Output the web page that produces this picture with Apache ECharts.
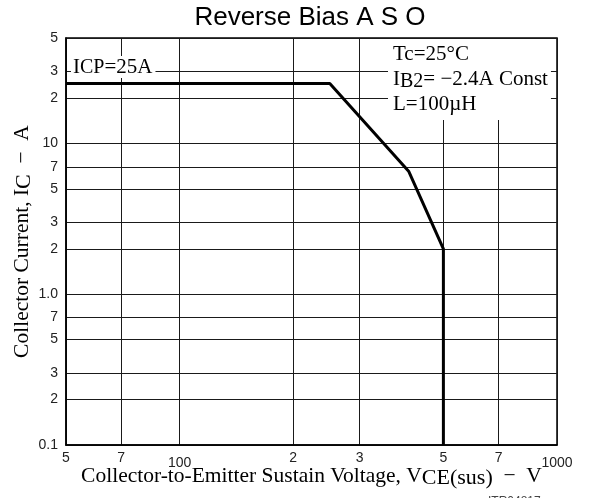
<!DOCTYPE html>
<html style="height: 100%">
<head>
<meta charset="UTF-8" />
<title>Reverse Bias A S O</title>
<style>
html, body { margin: 0; padding: 0; background: #ffffff; }
#chartBox { width: 589px; height: 498px; }
</style>
</head>
<body>
	<div id="chartBox"></div>

	<script src="https://cdn.jsdelivr.net/npm/echarts@6/dist/echarts.min.js"></script>
	<script>
		// data (V, A)
		var vceData = [50, 250, 405, 500, 500];
		var icData = [25, 25, 6.5, 2, 0.1];
		// grid / label positions
		var xTicks = [50, 70, 100, 200, 300, 500, 700, 1000];
		var yTicks = [0.1, 0.2, 0.3, 0.5, 0.7, 1, 2, 3, 5, 7, 10, 20, 30, 50];

		var serif = '"Liberation Serif", "DejaVu Serif", serif';
		var sans = '"Liberation Sans", Arial, sans-serif';

		// only decades get full numbers, the rest just the mantissa
		function tickText(v, lower) {
			var e = Math.floor(Math.log10(v) + 1e-9);
			var m = Math.round(v / Math.pow(10, e));
			if (m !== 1) return String(m);
			var s;
			if (Math.abs(v - 1) < 1e-9) s = '1.0';
			else s = String(Math.round(v * 10) / 10);
			return lower ? '{d|' + s + '}' : s;
		}

		var seriesData = [];
		for (var i = 0; i < vceData.length; i++) {
			seriesData.push([vceData[i], icData[i]]);
		}

		var myChart = echarts.init(document.getElementById('chartBox'));

		var subStyle = {
			fontFamily: serif, fontSize: 20, color: '#000',
			lineHeight: 16, verticalAlign: 'bottom'
		};
		var nameRich = {
			n: { fontFamily: serif, fontSize: 21.5, color: '#000', lineHeight: 26, verticalAlign: 'middle' },
			s: { fontFamily: serif, fontSize: 22, color: '#000', lineHeight: 18, verticalAlign: 'bottom' }
		};

		var option = {
			animation: false,
			title: {
				text: 'Reverse Bias A S O',
				left: 305,
				top: 0,
				textAlign: 'center',
				textStyle: { fontFamily: sans, fontSize: 26, fontWeight: 'normal', color: '#000' }
			},
			grid: {
				left: 66, right: 32, top: 38, bottom: 53,
				show: true, borderColor: '#000', borderWidth: 1.5,
				containLabel: false, outerBoundsMode: 'none'
			},
			xAxis: {
				type: 'log',
				logBase: 10,
				min: 50, max: 1000,
				name: '{n|Collector-to-Emitter Sustain Voltage, V}{s|CE(sus)}{n|  \u2212  V}',
				nameLocation: 'middle',
				nameGap: 18,
				nameMoveOverlap: false,
				nameTextStyle: { rich: nameRich },
				axisLine: { show: true, lineStyle: { color: '#000', width: 1.5 } },
				axisTick: { show: false, customValues: xTicks },
				axisLabel: {
					customValues: xTicks,
					margin: 6,
					fontFamily: sans, fontSize: 14, color: '#222',
					formatter: function (v) { return tickText(v, true); },
					rich: { d: { fontFamily: sans, fontSize: 14, color: '#222', padding: [5, 0, 0, 0] } }
				},
				splitLine: { show: true, lineStyle: { color: '#1a1a1a', width: 1 } }
			},
			yAxis: {
				type: 'log',
				logBase: 10,
				min: 0.1, max: 50,
				name: '{n|Collector Current, I}{s|C}{n|  \u2212  A}',
				nameLocation: 'middle',
				nameGap: 31,
				nameMoveOverlap: false,
				nameTextStyle: { rich: nameRich },
				axisLine: { show: true, lineStyle: { color: '#000', width: 1.5 } },
				axisTick: { show: false, customValues: yTicks },
				axisLabel: {
					customValues: yTicks,
					margin: 8,
					fontFamily: sans, fontSize: 14, color: '#222',
					formatter: function (v) { return tickText(v, false); }
				},
				splitLine: { show: true, lineStyle: { color: '#1a1a1a', width: 1 } }
			},
			graphic: [{
				type: 'text',
				left: 71, top: 56,
				z: 100,
				style: {
					text: '{n|I}{s|CP}{n|=25A}',
					backgroundColor: '#fff',
					padding: [0, 3, 0, 2],
					rich: {
						n: { fontFamily: serif, fontSize: 21, color: '#000', lineHeight: 22, verticalAlign: 'middle' },
						s: subStyle
					}
				}
			}, {
				type: 'text',
				left: 388, top: 39,
				z: 100,
				style: {
					text: '{n|Tc=25\u00b0C}\n{n|I}{s|B2}{n|= \u22122.4A Const}\n{n|L=100\u00b5H}',
					backgroundColor: '#fff',
					padding: [3, 3, 3, 5],
					rich: {
						n: { fontFamily: serif, fontSize: 21, color: '#000', lineHeight: 25, verticalAlign: 'middle' },
						s: subStyle
					}
				}
			}, {
				type: 'text',
				left: 488, top: 496,
				style: { text: 'ITR04817', fontFamily: sans, fontSize: 12, fill: '#444' }
			}],
			series: [{
				name: 'RBSOA',
				type: 'line',
				data: seriesData,
				symbol: 'none',
				z: 10,
				clip: false,
				lineStyle: { color: '#000', width: 3 }
			}]
		};
		myChart.setOption(option);
	</script>
</body>
</html>
